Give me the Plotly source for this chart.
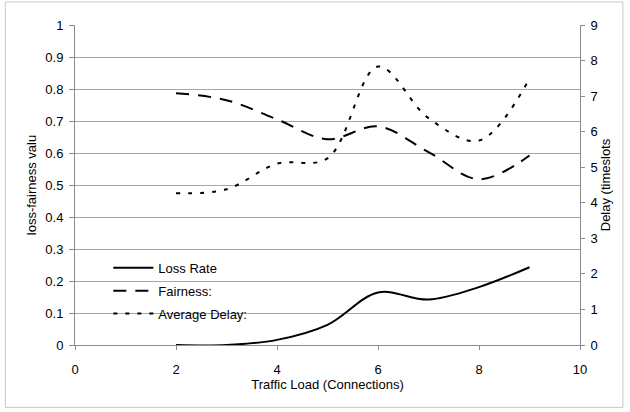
import plotly.graph_objects as go

load = [2, 3, 4, 5, 6, 7, 8, 9]
loss_rate = [0.0, 0.0, 0.016, 0.063, 0.164, 0.142, 0.181, 0.243]
fairness = [0.787, 0.765, 0.705, 0.643, 0.683, 0.603, 0.518, 0.592]
avg_delay = [4.27, 4.38, 5.1, 5.25, 7.83, 6.38, 5.75, 7.49]

x_ticks = [0, 2, 4, 6, 8, 10]
left_ticks = [0, 0.1, 0.2, 0.3, 0.4, 0.5, 0.6, 0.7, 0.8, 0.9, 1]
left_labels = ["0", "0.1", "0.2", "0.3", "0.4", "0.5", "0.6", "0.7", "0.8", "0.9", "1"]
right_ticks = [0, 1, 2, 3, 4, 5, 6, 7, 8, 9]

font = dict(family="Liberation Sans, Arial, sans-serif", size=13, color="#000")
axis_col = "#8c8c8c"
grid_col = "#a6a6a6"

fig = go.Figure()
fig.add_trace(go.Scatter(x=load, y=loss_rate, name="Loss Rate", mode="lines",
                         line=dict(color="black", width=2, shape="spline"),
                         legendgroup="a"))
fig.add_trace(go.Scatter(x=load, y=fairness, name="Fairness:", mode="lines",
                         line=dict(color="black", width=2, shape="spline", dash="13px,9px"),
                         legendgroup="b"))
fig.add_trace(go.Scatter(x=load, y=avg_delay, name="Average Delay:", mode="lines",
                         line=dict(color="black", width=2, shape="spline", dash="4px,8px"),
                         yaxis="y2", legendgroup="c"))

fig.update_layout(
    width=630, height=412,
    margin=dict(l=75, r=50, t=25, b=67),
    paper_bgcolor="white", plot_bgcolor="white",
    font=font,
    showlegend=True,
    legend=dict(x=0.066, y=0.288, xanchor="left", yanchor="top",
                bgcolor="rgba(0,0,0,0)", borderwidth=0,
                tracegroupgap=3, traceorder="grouped",
                itemwidth=40, font=font),
    xaxis=dict(range=[0, 10], tickvals=x_ticks, ticks="outside", ticklen=4,
               tickcolor=axis_col, showline=True, linecolor=axis_col, linewidth=1,
               ticklabelstandoff=8,
               showgrid=False, zeroline=False,
               title=dict(text="Traffic Load (Connections)", standoff=4, font=font)),
    yaxis=dict(range=[0, 1], tickvals=left_ticks, ticktext=left_labels,
               ticks="outside", ticklen=5, tickcolor=axis_col, ticklabelstandoff=3,
               showline=True, linecolor=axis_col, linewidth=1,
               showgrid=True, gridcolor=grid_col, gridwidth=1, zeroline=False,
               title=dict(text="loss-fairness valu", standoff=5, font=font)),
    yaxis2=dict(range=[0, 9], tickvals=right_ticks, overlaying="y", side="right",
                ticks="outside", ticklen=4, tickcolor=axis_col, ticklabelstandoff=3,
                showline=True, linecolor=axis_col, linewidth=1,
                showgrid=False, zeroline=False,
                title=dict(text="Delay (timeslots", standoff=2, font=font)),
    shapes=[dict(type="rect", xref="paper", yref="paper",
                 x0=-0.138, x1=1.085, y0=-0.195, y1=1.072,
                 line=dict(color="#c8c8c8", width=1), fillcolor="rgba(0,0,0,0)",
                 layer="below")],
)

fig.write_html("out.html", config={"displayModeBar": False},
               post_script="document.body.style.margin='0';")
